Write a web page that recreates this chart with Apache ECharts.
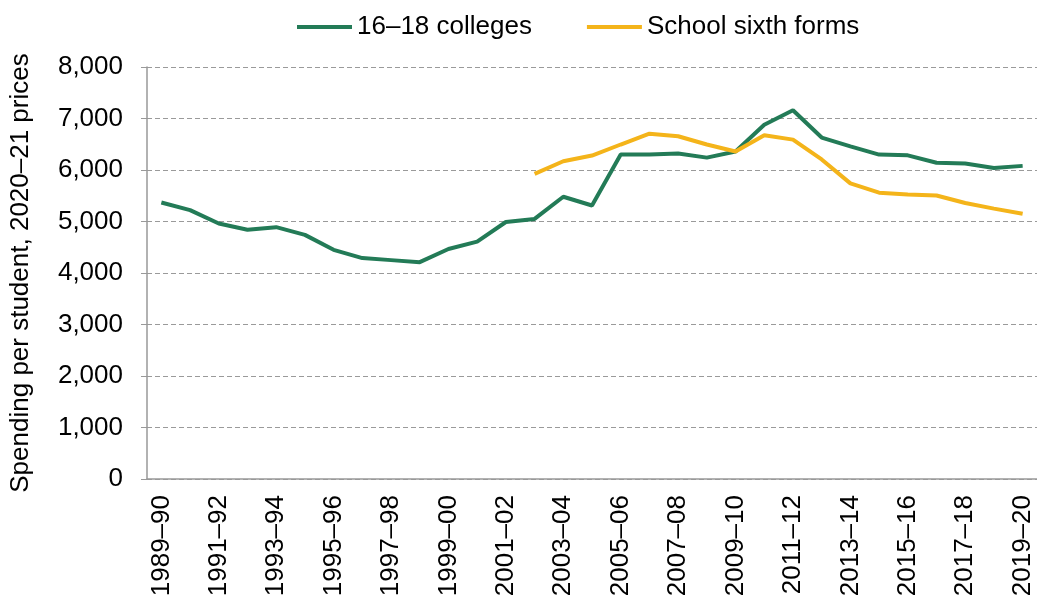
<!DOCTYPE html>
<html lang="en">
<head>
	<meta charset="UTF-8">
	<title>Spending per student</title>
	<script src="https://cdn.jsdelivr.net/npm/echarts@6/dist/echarts.min.js"></script>
	<style>
		html,body{margin:0;padding:0;background:#fff;}
		#main{width:1037px;height:601px;}
	</style>
</head>
<body>
	<div id="main"></div>
	<script>
		var years = ['1989–90','1990–91','1991–92','1992–93','1993–94','1994–95','1995–96','1996–97','1997–98','1998–99',
			'1999–00','2000–01','2001–02','2002–03','2003–04','2004–05','2005–06','2006–07','2007–08','2008–09',
			'2009–10','2010–11','2011–12','2012–13','2013–14','2014–15','2015–16','2016–17','2017–18','2018–19','2019–20'];
		var colleges = [5370,5220,4960,4840,4890,4740,4450,4290,4250,4210,
			4465,4610,4990,5050,5480,5310,6300,6300,6320,6240,
			6360,6880,7160,6630,6460,6300,6285,6140,6125,6040,6080];
		var sixthForms = [null,null,null,null,null,null,null,null,null,null,
			null,null,null,5925,6170,6280,6495,6705,6655,6495,
			6360,6675,6590,6205,5740,5560,5525,5505,5360,5250,5150];

		var myChart = echarts.init(document.getElementById('main'));
		var font = 'Liberation Sans, Arial, sans-serif';
		var option = {
			animation: false,
			textStyle: { fontFamily: font },
			legend: {
				top: 9,
				left: 292,
				icon: 'rect',
				itemWidth: 55,
				itemHeight: 4,
				itemGap: 55,
				textStyle: { fontSize: 26, color: '#000', fontFamily: font },
				data: ['16–18 colleges', 'School sixth forms']
			},
			grid: { left: 147, top: 67, bottom: 122, width: 897 },
			xAxis: {
				type: 'category',
				data: years,
				boundaryGap: true,
				axisLine: { lineStyle: { color: '#999', width: 1.5 } },
				axisTick: { interval: 0, length: 7, lineStyle: { color: '#999' } },
				axisLabel: { interval: 1, rotate: 90, fontSize: 26, color: '#000', margin: 16, fontFamily: font }
			},
			yAxis: {
				type: 'value',
				min: 0,
				max: 8000,
				interval: 1000,
				name: 'Spending per student, 2020–21 prices',
				nameLocation: 'middle',
				nameGap: 113,
				nameTextStyle: { fontSize: 26, color: '#000', fontFamily: font },
				axisLine: { show: true, lineStyle: { color: '#999', width: 1.5 } },
				axisTick: { show: true, length: 6, lineStyle: { color: '#999' } },
				axisLabel: {
					fontSize: 26, color: '#000', margin: 24, fontFamily: font,
					formatter: function (v) { return v.toLocaleString('en-GB'); }
				},
				splitLine: { lineStyle: { color: '#9a9a9a', type: [5, 3], width: 1.2 } }
			},
			series: [
				{
					name: '16–18 colleges',
					type: 'line',
					data: colleges,
					symbol: 'none',
					lineStyle: { color: '#237b57', width: 4 },
					itemStyle: { color: '#237b57' }
				},
				{
					name: 'School sixth forms',
					type: 'line',
					data: sixthForms,
					symbol: 'none',
					lineStyle: { color: '#f4b41a', width: 4 },
					itemStyle: { color: '#f4b41a' }
				}
			]
		};
		myChart.setOption(option);
	</script>
</body>
</html>
